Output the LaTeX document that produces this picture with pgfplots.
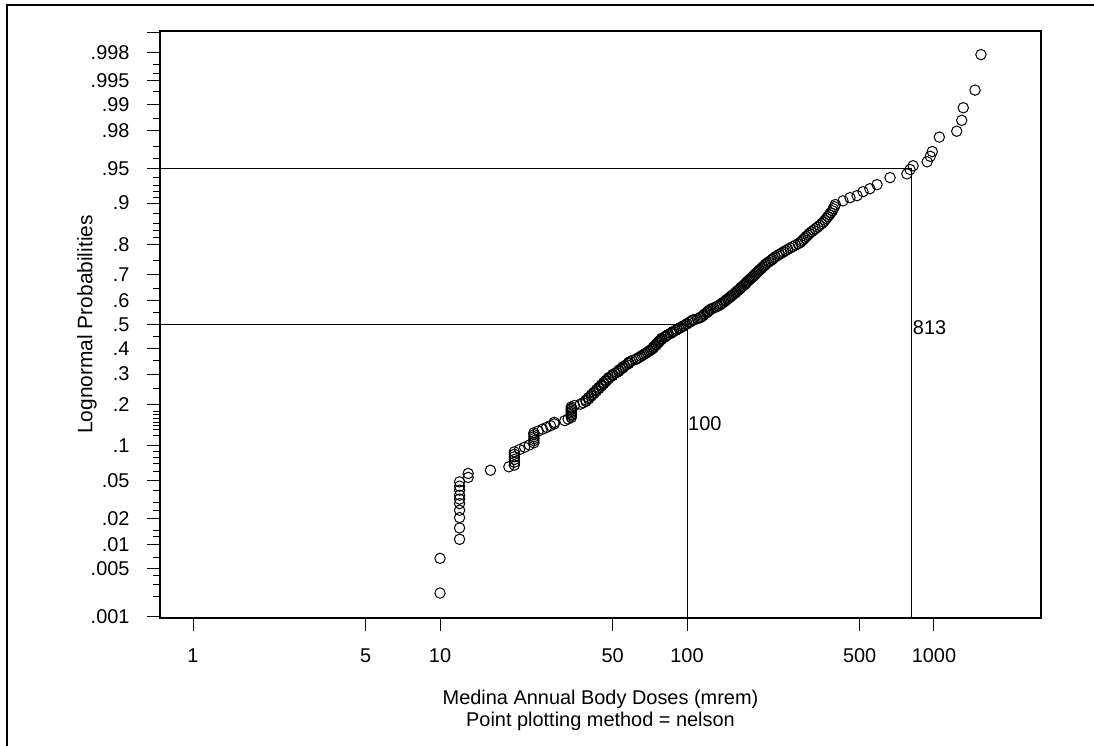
\documentclass[border=0pt]{standalone}
\usepackage{pgfplots}
\pgfplotsset{compat=1.18}
\usepackage{fontspec}
\setmainfont{Liberation Sans}

\begin{document}
\begin{tikzpicture}
\useasboundingbox (0,0) rectangle (1094bp,746bp);
\draw[line width=2.5bp] (7bp,0bp) -- (7bp,741bp) -- (1094bp,741bp);
\begin{axis}[
  at={(160bp,128bp)}, anchor=south west,
  scale only axis, width=881bp, height=587bp,
  xmode=log, log basis x=10,
  xmin=0.735, xmax=2712,
  ymin=0.00097, ymax=0.99903,
  y coord trafo/.code={%
    \pgfmathsetmacro\probP{#1}%
    \pgfmathsetmacro\probQ{min(\probP,1-\probP)}%
    \pgfmathsetmacro\probT{sqrt(-2*ln(\probQ))}%
    \pgfmathsetmacro\probZ{\probT-(2.515517+0.802853*\probT+0.010328*\probT*\probT)/(1+1.432788*\probT+0.189269*\probT*\probT+0.001308*\probT*\probT*\probT)}%
    \pgfmathparse{\probP<0.5 ? -\probZ : \probZ}%
  },
  axis line style={line width=1.1bp},
  tick align=outside, tick pos=left,
  major tick length=13bp, minor tick length=7bp,
  every tick/.style={black, line width=1bp},
  xtick={1,5,10,50,100,500,1000},
  xticklabels={1,5,10,50,100,500,1000},
  minor xtick={},
  ytick={0.001,0.005,0.01,0.02,0.05,0.1,0.2,0.3,0.4,0.5,0.6,0.7,0.8,0.9,0.95,0.98,0.99,0.995,0.998,0.999},
  yticklabels={.001,.005,.01,.02,.05,.1,.2,.3,.4,.5,.6,.7,.8,.9,.95,.98,.99,.995,.998,{}},
  minor ytick={0.002,0.003,0.004,0.007,0.0125,0.015,0.025,0.03,0.04,0.06,0.07,0.08,0.09,0.12,0.13,0.14,0.15,0.16,0.17,0.18,0.25,0.35,0.45,0.55,0.65,0.75,0.82,0.84,0.86,0.88,0.91,0.92,0.93,0.94,0.96,0.97,0.985,0.993,0.996,0.997},
  ticklabel style={font=\fontsize{20}{23}\selectfont},
  xticklabel style={yshift=-14bp},
  yticklabel style={xshift=-14bp},
  xlabel={Medina Annual Body Doses (mrem)\\Point plotting method = nelson},
  every axis x label/.style={at={(axis description cs:0.5,-0.158)}, anchor=center, align=center, font=\fontsize{20}{22}\selectfont},
  ylabel={Lognormal Probabilities},
  every axis y label/.style={at={(axis description cs:-0.0828,0.5)}, rotate=90, anchor=center, font=\fontsize{21}{23}\selectfont},
  clip=false,
]
% reference lines
\addplot[black, line width=1bp] coordinates {(0.735,0.5) (100,0.5) (100,0.00097)};
\addplot[black, line width=1bp] coordinates {(0.735,0.95) (813,0.95) (813,0.00097)};
\addplot[draw=none, mark=none, nodes near coords, point meta=explicit symbolic,
  every node near coord/.style={anchor=west, inner sep=1bp, font=\fontsize{20}{22}\selectfont}]
  coordinates {(100,0.148) [100] (813,0.486) [813]};
% data
\addplot[only marks, mark=o, mark size=5.2bp, black, mark options={line width=1bp}] table {
x p
10 0.0023
10 0.0068
12 0.0117
12 0.0159
12 0.0208
12 0.0250
12 0.0294
12 0.0327
12 0.0358
12 0.0402
12 0.0440
12 0.0484
13 0.0533
13 0.0580
16 0.0620
19 0.0666
20 0.0690
20 0.0731
20 0.0772
20 0.0813
20 0.0854
20 0.0895
21 0.0936
22 0.0977
23 0.1018
24 0.1059
24 0.1100
24 0.1141
24 0.1182
24 0.1223
24 0.1264
25 0.1305
26 0.1346
27 0.1387
28 0.1428
29 0.1469
29 0.1510
32 0.1551
33 0.1592
34 0.1633
34 0.1674
34 0.1715
34 0.1756
34 0.1797
34 0.1838
34 0.1879
34 0.1920
35 0.1961
37 0.2002
38 0.2043
39 0.2084
39 0.2125
40 0.2166
40 0.2207
41 0.2248
41 0.2289
42 0.2330
42 0.2371
43 0.2412
43 0.2453
44 0.2494
44 0.2535
45 0.2576
45 0.2617
46 0.2658
46 0.2699
47 0.2740
47 0.2781
48 0.2822
48 0.2863
49 0.2904
50 0.2945
50 0.2986
51 0.3027
52 0.3068
53 0.3109
53 0.3150
54 0.3191
55 0.3232
55 0.3273
56 0.3314
57 0.3355
58 0.3396
58 0.3437
59 0.3478
60 0.3519
62 0.3560
63 0.3601
64 0.3642
65 0.3683
66 0.3724
67 0.3765
68 0.3806
69 0.3847
70 0.3888
71 0.3929
72 0.3970
73 0.4011
73 0.4052
74 0.4093
75 0.4134
75 0.4175
76 0.4216
77 0.4257
77 0.4298
78 0.4339
79 0.4380
79 0.4421
81 0.4462
82 0.4503
83 0.4544
84 0.4585
86 0.4626
87 0.4667
88 0.4708
90 0.4749
91 0.4790
93 0.4831
94 0.4872
96 0.4913
97 0.4954
99 0.4995
100 0.5036
102 0.5077
103 0.5118
105 0.5159
106 0.5200
110 0.5241
113 0.5282
114 0.5323
116 0.5364
117 0.5405
118 0.5446
120 0.5487
121 0.5528
122 0.5569
124 0.5610
125 0.5651
128 0.5692
131 0.5733
133 0.5774
136 0.5815
137 0.5856
139 0.5897
141 0.5938
143 0.5979
144 0.6020
146 0.6061
148 0.6102
150 0.6143
151 0.6184
153 0.6225
155 0.6266
157 0.6307
158 0.6348
160 0.6389
162 0.6430
164 0.6471
165 0.6512
167 0.6553
169 0.6594
171 0.6635
173 0.6676
174 0.6717
176 0.6758
178 0.6799
180 0.6840
182 0.6881
184 0.6922
186 0.6963
188 0.7004
190 0.7045
192 0.7086
194 0.7127
196 0.7168
199 0.7209
201 0.7250
203 0.7291
206 0.7332
208 0.7373
211 0.7414
214 0.7455
218 0.7496
221 0.7537
224 0.7578
227 0.7619
232 0.7660
236 0.7701
241 0.7742
246 0.7783
251 0.7824
256 0.7865
262 0.7906
268 0.7947
275 0.7988
282 0.8029
288 0.8070
292 0.8111
296 0.8152
300 0.8193
304 0.8234
309 0.8275
313 0.8316
319 0.8357
325 0.8398
331 0.8439
338 0.8480
344 0.8521
351 0.8562
357 0.8603
362 0.8644
367 0.8685
372 0.8726
377 0.8767
382 0.8808
388 0.8849
391 0.8890
395 0.8931
399 0.8972
428 0.9040
457 0.9096
488 0.9130
516 0.9195
550 0.9240
588 0.9300
664 0.9394
777 0.9440
800 0.9490
823 0.9530
938 0.9570
966 0.9620
984 0.9660
1051 0.9760
1236 0.9793
1295 0.9844
1314 0.9889
1466 0.9933
1549 0.9978
};
\end{axis}
\end{tikzpicture}
\end{document}
